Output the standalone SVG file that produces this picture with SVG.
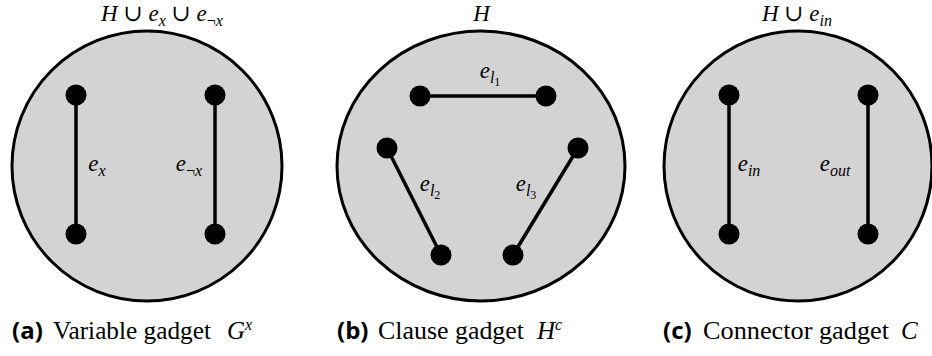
<svg xmlns="http://www.w3.org/2000/svg" width="932" height="356" viewBox="0 0 932 356">
<style>
.gad{fill:#d3d3d3;stroke:#000;stroke-width:3}
.nd{fill:#000}
.ed{stroke:#000;stroke-width:3.5;fill:none}
.m{font-family:'Liberation Serif','DejaVu Serif',serif;font-style:italic;font-size:23px;fill:#000}
.up{font-style:normal}
.sub{font-size:16px}
.cap{font-family:'Liberation Serif','DejaVu Serif',serif;font-size:25px;fill:#000}
.lbl{font-family:'Open Sans','DejaVu Sans',sans-serif;font-weight:bold;font-size:24px}
.it{font-style:italic}
</style>
<rect width="932" height="356" fill="#fff"/>
<g id="gadget-a">
<ellipse class="gad" cx="147" cy="166" rx="135" ry="135"/>
<text class="m" x="162" y="21" text-anchor="middle">H<tspan class="up"> ∪ </tspan>e<tspan class="sub" dy="5">x</tspan><tspan class="up" dy="-5"> ∪ </tspan>e<tspan class="sub up" dy="5">¬</tspan><tspan class="sub">x</tspan></text>
</g>
<g id="gadget-b">
<ellipse class="gad" cx="481" cy="166" rx="144" ry="135"/>
<text class="m" x="481.5" y="21" text-anchor="middle">H</text>
</g>
<g id="gadget-c">
<ellipse class="gad" cx="798" cy="166" rx="134" ry="135"/>
<text class="m" x="797" y="21" text-anchor="middle">H<tspan class="up"> ∪ </tspan>e<tspan class="sub" dy="5">in</tspan></text>
</g>
<g id="connectors">
<line class="ed" x1="76" y1="95" x2="76" y2="234"/>
<line class="ed" x1="215" y1="95" x2="215" y2="234"/>
<line class="ed" x1="420" y1="96" x2="546" y2="96"/>
<line class="ed" x1="387" y1="148" x2="441" y2="255"/>
<line class="ed" x1="578" y1="148" x2="513" y2="255"/>
<line class="ed" x1="729" y1="95" x2="729" y2="234"/>
<line class="ed" x1="868" y1="95" x2="868" y2="234"/>
<text class="m" x="97" y="171" text-anchor="middle">e<tspan class="sub" dy="5">x</tspan></text>
<text class="m" x="189" y="171" text-anchor="middle">e<tspan class="sub up" dy="5">¬</tspan><tspan class="sub">x</tspan></text>
<text class="m" x="490" y="78" text-anchor="middle">e<tspan class="sub" dy="5">l</tspan><tspan font-size="12px" class="up" dy="3">1</tspan></text>
<text class="m" x="430" y="191" text-anchor="middle">e<tspan class="sub" dy="5">l</tspan><tspan font-size="12px" class="up" dy="3">2</tspan></text>
<text class="m" x="526" y="191" text-anchor="middle">e<tspan class="sub" dy="5">l</tspan><tspan font-size="12px" class="up" dy="3">3</tspan></text>
<text class="m" x="749" y="171" text-anchor="middle">e<tspan class="sub" dy="5">in</tspan></text>
<text class="m" x="835" y="171" text-anchor="middle">e<tspan class="sub" dy="5">out</tspan></text>
</g>
<g id="a-n1"><circle class="nd" cx="76" cy="95" r="10.5"/></g>
<g id="a-n2"><circle class="nd" cx="76" cy="234" r="10.5"/></g>
<g id="a-n3"><circle class="nd" cx="215" cy="95" r="10.5"/></g>
<g id="a-n4"><circle class="nd" cx="215" cy="234" r="10.5"/></g>
<g id="b-n1"><circle class="nd" cx="420" cy="96" r="10.5"/></g>
<g id="b-n2"><circle class="nd" cx="546" cy="96" r="10.5"/></g>
<g id="b-n3"><circle class="nd" cx="387" cy="148" r="10.5"/></g>
<g id="b-n4"><circle class="nd" cx="578" cy="148" r="10.5"/></g>
<g id="b-n5"><circle class="nd" cx="441" cy="255" r="10.5"/></g>
<g id="b-n6"><circle class="nd" cx="513" cy="255" r="10.5"/></g>
<g id="c-n1"><circle class="nd" cx="729" cy="95" r="10.5"/></g>
<g id="c-n2"><circle class="nd" cx="729" cy="234" r="10.5"/></g>
<g id="c-n3"><circle class="nd" cx="868" cy="95" r="10.5"/></g>
<g id="c-n4"><circle class="nd" cx="868" cy="234" r="10.5"/></g>
<g id="captions">
<text class="lbl" x="12" y="339">(a)</text>
<text class="cap" x="53" y="339" textLength="158" lengthAdjust="spacingAndGlyphs">Variable gadget</text>
<text class="cap it" x="227" y="339">G<tspan font-size="16px" dy="-9">x</tspan></text>
<text class="lbl" x="337" y="339">(b)</text>
<text class="cap" x="378" y="339" textLength="146" lengthAdjust="spacingAndGlyphs">Clause gadget</text>
<text class="cap it" x="537" y="339">H<tspan font-size="16px" dy="-9">c</tspan></text>
<text class="lbl" x="663" y="339">(c)</text>
<text class="cap" x="703" y="339" textLength="186" lengthAdjust="spacingAndGlyphs">Connector gadget</text>
<text class="cap it" x="901" y="339">C</text>
</g>
</svg>
